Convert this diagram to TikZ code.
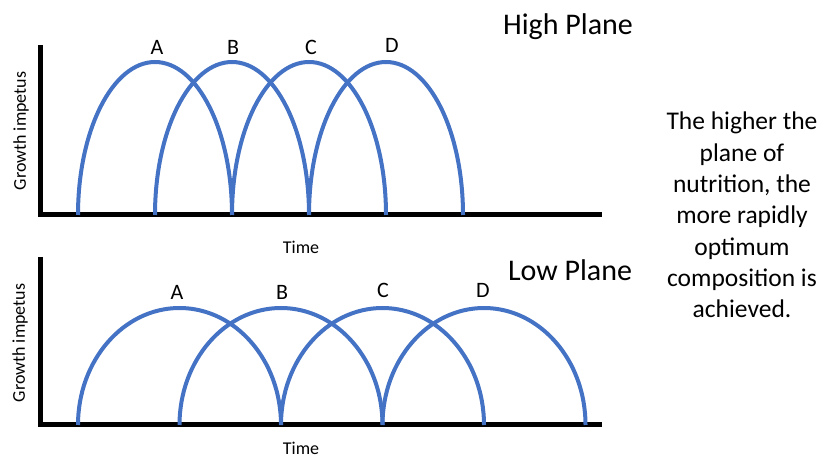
\documentclass[tikz,border=0pt]{standalone}
\usepackage{fontspec}
\setmainfont{Carlito}
\definecolor{arcblue}{HTML}{4472C4}
\begin{document}
\begin{tikzpicture}[x=1pt,y=1pt,
  axisline/.style={line width=5pt,black,line join=miter},
  curve/.style={line width=4pt,arcblue},
  letter/.style={font=\fontsize{22}{22}\selectfont,inner sep=0pt},
  plane/.style={font=\fontsize{30}{30}\selectfont,inner sep=0pt},
  axlabel/.style={font=\fontsize{18}{18}\selectfont,inner sep=0pt}]
\useasboundingbox (0,0) rectangle (824,457);
% top chart
\coordinate (t0) at (40,412);
\coordinate (to) at (40,242);
\coordinate (tx) at (602,242);
\draw[axisline] (t0) -- (to) -- (tx);
\foreach \c in {155,232,309,386}{
  \draw[curve] (\c-77,242) arc[start angle=180,end angle=0,x radius=77,y radius=153];
}
\node[letter] (ta) at (157,410) {A};
\node[letter] (tb) at (233,410) {B};
\node[letter] (tc) at (311,410) {C};
\node[letter] (td) at (392,412) {D};
\node[plane] (hp) at (568,430) {High Plane};
\node[axlabel,rotate=90] (ty) at (21,326) {Growth impetus};
\node[axlabel] (tt) at (301,210) {Time};
% bottom chart
\coordinate (b0) at (40,200);
\coordinate (bo) at (40,32);
\coordinate (bx) at (602,32);
\draw[axisline] (b0) -- (bo) -- (bx);
\foreach \c in {179.5,281,382.5,484}{
  \draw[curve] (\c-101.5,32) arc[start angle=180,end angle=0,x radius=101.5,y radius=117];
}
\node[letter] (ba) at (177,165) {A};
\node[letter] (bb) at (282,165) {B};
\node[letter] (bc) at (383,167) {C};
\node[letter] (bd) at (483,167) {D};
\node[plane] (lp) at (570,187) {Low Plane};
\node[axlabel,rotate=90] (by) at (20,114) {Growth impetus};
\node[axlabel] (bt) at (301,9) {Time};
% note
\node[align=center,inner sep=0pt,font=\fontsize{25.5}{31.3}\selectfont] (note) at (742,242)
  {The higher the\\plane of\\nutrition, the\\more rapidly\\optimum\\composition is\\achieved.};
\end{tikzpicture}
\end{document}
